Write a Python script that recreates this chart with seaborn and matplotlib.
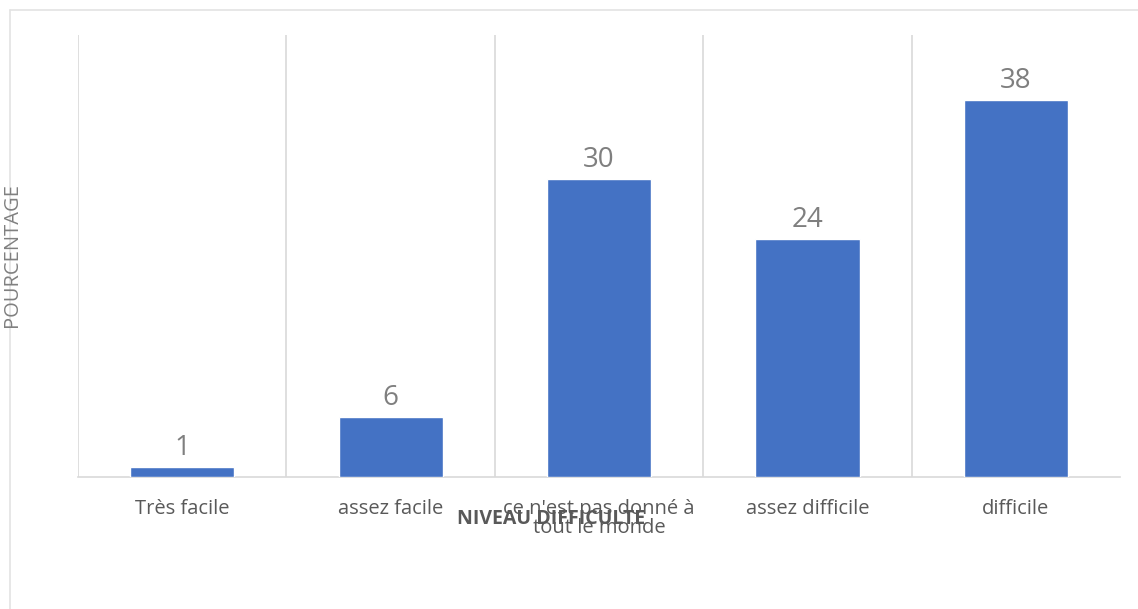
import matplotlib
matplotlib.use("Agg")
import matplotlib.pyplot as plt
from matplotlib.lines import Line2D
import seaborn as sns
import pandas as pd

categories = ["Très facile", "assez facile", "ce n'est pas donné à\ntout le monde",
              "assez difficile", "difficile"]
values = [1, 6, 30, 24, 38]

sns.set_theme(style="white")
plt.rcParams["font.family"] = ["Open Sans", "DejaVu Sans"]

df = pd.DataFrame({"niveau": categories, "pct": values})

fig = plt.figure(figsize=(11.38, 6.09), dpi=100)
ax = fig.add_axes([78 / 1138, 1 - 477 / 609, (1120 - 78) / 1138, (477 - 35) / 609])

sns.barplot(data=df, x="niveau", y="pct", color="#4472C4", width=0.5,
            saturation=1, ax=ax, zorder=3)

ax.set_xlim(-0.5, 4.5)
ax.set_ylim(0, 44.5)

# category separators
for xb in [-0.5, 0.5, 1.5, 2.5, 3.5]:
    ax.axvline(xb, color="#d9d9d9", lw=1.2, zorder=1)

for s in ["top", "right", "left"]:
    ax.spines[s].set_visible(False)
ax.spines["bottom"].set_color("#d9d9d9")
ax.spines["bottom"].set_linewidth(1.2)

ax.set_yticks([])
ax.set_xlabel("")
ax.set_ylabel("")
ax.tick_params(axis="x", length=0, pad=16, labelsize=14.5, labelcolor="#595959")
for lab in ax.get_xticklabels():
    lab.set_linespacing(0.95)

for i, v in enumerate(values):
    ax.text(i, v + 0.5, str(v), ha="center", va="bottom", fontsize=20,
            color="#7f7f7f")

fig.text(551 / 1138, 1 - 519 / 609, "NIVEAU DIFFICULTE", ha="center", va="center",
         fontsize=14, fontweight="bold", color="#595959")
fig.text(12 / 1138, 1 - 255 / 609, "POURCENTAGE", ha="center", va="center",
         rotation=90, fontsize=14.5, color="#808080")

# outer chart frame
fig.add_artist(Line2D([10 / 1138, 10 / 1138], [0, 1 - 10 / 609], color="#e3e3e3", lw=1.2,
                      transform=fig.transFigure))
fig.add_artist(Line2D([10 / 1138, 1], [1 - 10 / 609, 1 - 10 / 609], color="#e3e3e3", lw=1.2,
                      transform=fig.transFigure))

fig.savefig("out.png", dpi=100)
